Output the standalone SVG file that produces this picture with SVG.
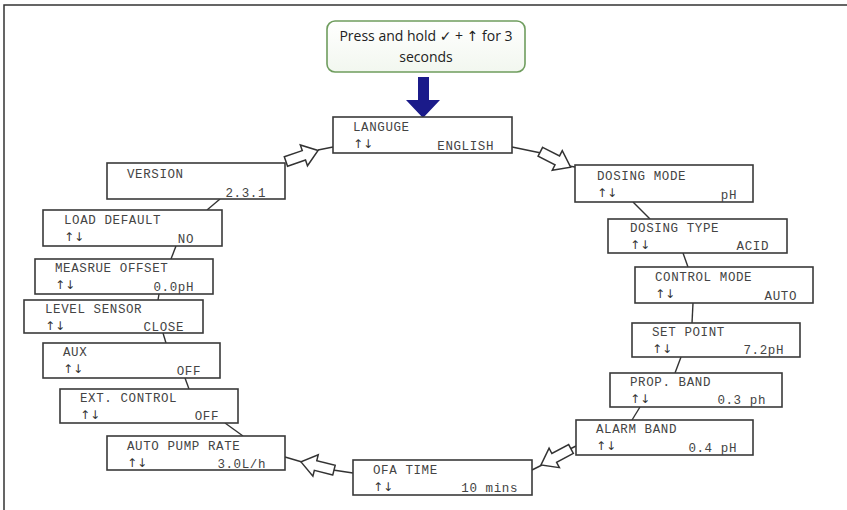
<svg xmlns="http://www.w3.org/2000/svg" width="847" height="510" viewBox="0 0 847 510">
<defs>
<style>
.box{fill:#fff;stroke:#3a3a3a;stroke-width:1.6}
.lbl{font-family:"Liberation Mono","Courier New",monospace;font-size:12.5px;letter-spacing:0.6px;fill:#444}
.val{font-family:"Liberation Mono","Courier New",monospace;font-size:12.5px;letter-spacing:0.6px;fill:#444;text-anchor:end}
.arr{font-family:"DejaVu Sans",sans-serif;font-size:12px;fill:#333}
.ln{stroke:#333;stroke-width:1.4;fill:none}
.ha{fill:#fff;stroke:#333;stroke-width:1.5;stroke-linejoin:miter}
.top{font-family:"Open Sans","DejaVu Sans",sans-serif;font-size:14px;font-weight:500;fill:#222;text-anchor:middle}
</style>
<path id="hollow" d="M-17,-5 L2,-5 L2,-11 L17,0 L2,11 L2,5 L-17,5 Z"/>
<linearGradient id="g" x1="0" y1="0" x2="0" y2="1"><stop offset="0" stop-color="#ffffff"/><stop offset="1" stop-color="#f2f7ef"/></linearGradient>
</defs>
<rect width="847" height="510" fill="#fff"/>
<path d="M4,510 L4,5 L847,5" fill="none" stroke="#333" stroke-width="1.5"/>

<g id="start">
<rect x="327" y="21" width="198" height="51" rx="8" fill="url(#g)" stroke="#6f9d5e" stroke-width="1.6"/>
<text class="top" x="426" y="41">Press and hold ✓ + ↑ for 3</text>
<text class="top" x="426" y="62">seconds</text>
</g>
<g id="startArrow">
<polygon points="418,77 429,77 429,100 440,100 423,118 406,100 418,100" fill="#1b1b8a"/>
</g>

<g id="connectors">
<line class="ln" x1="220" y1="199" x2="207" y2="210"/>
<line class="ln" x1="176" y1="246" x2="171" y2="259"/>
<line class="ln" x1="159" y1="294" x2="158" y2="300"/>
<line class="ln" x1="163" y1="333" x2="166" y2="343"/>
<line class="ln" x1="185" y1="378" x2="189" y2="389"/>
<line class="ln" x1="225" y1="423" x2="243" y2="436"/>
<line class="ln" x1="633" y1="202" x2="650" y2="219"/>
<line class="ln" x1="683" y1="253" x2="688" y2="267"/>
<line class="ln" x1="693" y1="303" x2="692" y2="323"/>
<line class="ln" x1="681" y1="357" x2="675" y2="373"/>
<line class="ln" x1="640" y1="407" x2="632" y2="420"/>
<line class="ln" x1="318" y1="150" x2="333" y2="147"/>
<line class="ln" x1="512" y1="147" x2="541" y2="153"/>
<line class="ln" x1="569" y1="166" x2="575" y2="167"/>
<line class="ln" x1="576" y1="446" x2="570" y2="449"/>
<line class="ln" x1="542" y1="465" x2="532" y2="470"/>
<line class="ln" x1="353" y1="473" x2="333" y2="470"/>
<line class="ln" x1="302" y1="462" x2="285" y2="457"/>
<use href="#hollow" class="ha" transform="translate(302,156) rotate(-19)"/>
<use href="#hollow" class="ha" transform="translate(555.5,159.5) rotate(27)"/>
<use href="#hollow" class="ha" transform="translate(556,457) rotate(152)"/>
<use href="#hollow" class="ha" transform="translate(317.5,466) rotate(194)"/>
</g>

<g id="langnuge">
<rect class="box" x="333" y="117" width="179" height="36"/>
<text class="lbl" x="353" y="131">LANGUGE</text>
<text class="arr" x="353" y="148">↑↓</text>
<text class="val" x="494" y="150">ENGLISH</text>
</g>
<g id="dosingMode">
<rect class="box" x="575" y="165" width="178" height="37"/>
<text class="lbl" x="597" y="180">DOSING MODE</text>
<text class="arr" x="597" y="197">↑↓</text>
<text class="val" x="737" y="199">pH</text>
</g>
<g id="dosingType">
<rect class="box" x="608" y="219" width="179" height="34"/>
<text class="lbl" x="630" y="232">DOSING TYPE</text>
<text class="arr" x="630" y="249">↑↓</text>
<text class="val" x="769" y="250">ACID</text>
</g>
<g id="controlMode">
<rect class="box" x="635" y="267" width="178" height="36"/>
<text class="lbl" x="655" y="281">CONTROL MODE</text>
<text class="arr" x="655" y="298">↑↓</text>
<text class="val" x="797" y="300">AUTO</text>
</g>
<g id="setPoint">
<rect class="box" x="632" y="323" width="168" height="34"/>
<text class="lbl" x="652" y="336">SET POINT</text>
<text class="arr" x="652" y="353">↑↓</text>
<text class="val" x="784" y="354">7.2pH</text>
</g>
<g id="propBand">
<rect class="box" x="610" y="373" width="172" height="34"/>
<text class="lbl" x="630" y="386">PROP. BAND</text>
<text class="arr" x="630" y="403">↑↓</text>
<text class="val" x="766" y="404">0.3 ph</text>
</g>
<g id="alarmBand">
<rect class="box" x="576" y="420" width="177" height="35"/>
<text class="lbl" x="596" y="433">ALARM BAND</text>
<text class="arr" x="596" y="450">↑↓</text>
<text class="val" x="737" y="452">0.4 pH</text>
</g>
<g id="ofaTime">
<rect class="box" x="353" y="460" width="179" height="35"/>
<text class="lbl" x="373" y="474">OFA TIME</text>
<text class="arr" x="373" y="491">↑↓</text>
<text class="val" x="518" y="492">10 mins</text>
</g>
<g id="autoPumpRate">
<rect class="box" x="107" y="436" width="178" height="34"/>
<text class="lbl" x="127" y="450">AUTO PUMP RATE</text>
<text class="arr" x="127" y="467">↑↓</text>
<text class="val" x="266" y="468">3.0L/h</text>
</g>
<g id="extControl">
<rect class="box" x="60" y="389" width="178" height="34"/>
<text class="lbl" x="80" y="402">EXT. CONTROL</text>
<text class="arr" x="80" y="419">↑↓</text>
<text class="val" x="219" y="420">OFF</text>
</g>
<g id="aux">
<rect class="box" x="43" y="343" width="177" height="35"/>
<text class="lbl" x="63" y="356">AUX</text>
<text class="arr" x="63" y="373">↑↓</text>
<text class="val" x="201" y="375">OFF</text>
</g>
<g id="levelSensor">
<rect class="box" x="24" y="300" width="179" height="33"/>
<text class="lbl" x="45" y="313">LEVEL SENSOR</text>
<text class="arr" x="45" y="330">↑↓</text>
<text class="val" x="184" y="331">CLOSE</text>
</g>
<g id="measureOffset">
<rect class="box" x="35" y="259" width="178" height="35"/>
<text class="lbl" x="55" y="272">MEASRUE OFFSET</text>
<text class="arr" x="55" y="289">↑↓</text>
<text class="val" x="194" y="291">0.0pH</text>
</g>
<g id="loadDefault">
<rect class="box" x="43" y="210" width="179" height="36"/>
<text class="lbl" x="64" y="224">LOAD DEFAULT</text>
<text class="arr" x="64" y="241">↑↓</text>
<text class="val" x="194" y="243">NO</text>
</g>
<g id="version">
<rect class="box" x="107" y="163" width="178" height="36"/>
<text class="lbl" x="127" y="178">VERSION</text>
<text class="val" x="266" y="197">2.3.1</text>
</g>
</svg>
